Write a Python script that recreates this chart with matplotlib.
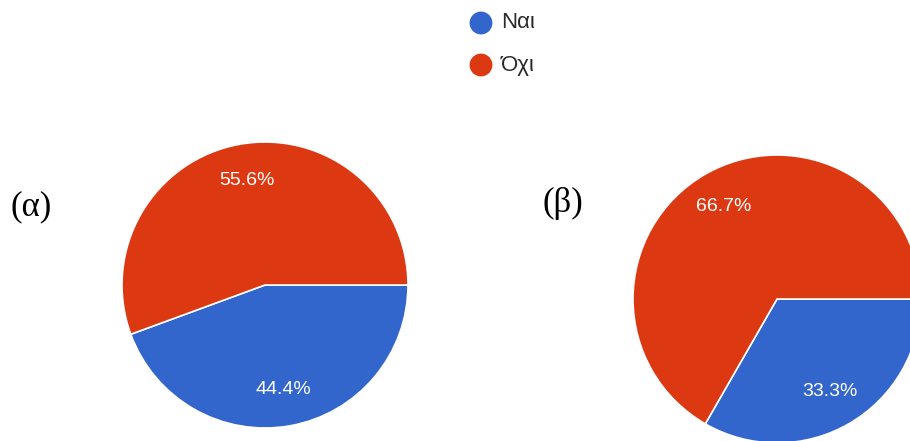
import matplotlib.pyplot as plt

labels = ["Ναι", "Όχι"]
values_a = [44.4, 55.6]
values_b = [33.3, 66.7]
panel_labels = ["(α)", "(β)"]
colors = ["#3366CC", "#DC3912"]

W, H = 910, 441
fig = plt.figure(figsize=(W / 100, H / 100), dpi=100)
ax = fig.add_axes([0, 0, 1, 1])

def py(y):
    return H - y

common = dict(colors=colors, startangle=0, counterclock=False,
              autopct='%1.1f%%', pctdistance=0.74,
              wedgeprops=dict(edgecolor='white', linewidth=1.2),
              textprops=dict(color='white', fontsize=14, family='Liberation Sans'))

ax.pie(values_a, center=(265, py(285)), radius=143, **common)
ax.pie(values_b, center=(777, py(299)), radius=144, **common)

ax.set_xlim(0, W)
ax.set_ylim(0, H)
ax.set_aspect('equal')
ax.axis('off')

# panel labels
ax.text(10, py(207), panel_labels[0], ha='left', va='center',
        family='Liberation Serif', fontsize=25, color='black')
ax.text(543, py(203), panel_labels[1], ha='left', va='center',
        family='Liberation Serif', fontsize=25, color='black')

# legend
for i, (lab, col) in enumerate(zip(labels, colors)):
    yc = py(23 + 42 * i)
    ax.scatter([481], [yc], s=270, color=col, edgecolors='none', zorder=5)
    ax.text(501, yc, lab, ha='left', va='center', family='Liberation Sans',
            fontsize=16, color='#2a2a2a')

fig.savefig('out.png', dpi=100)
